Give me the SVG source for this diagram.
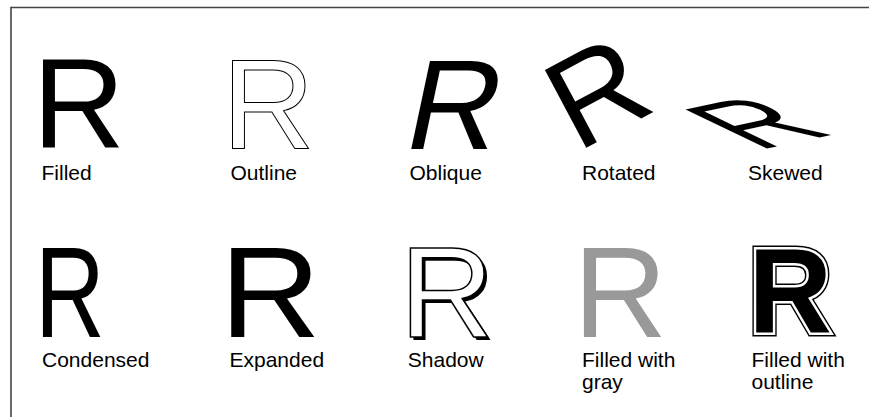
<svg xmlns="http://www.w3.org/2000/svg" width="869" height="417" viewBox="0 0 869 417">
<style>
.lbl{font-family:"Liberation Sans",Arial,sans-serif;font-size:21px;fill:#000;}
.big{font-family:"Liberation Sans",Arial,sans-serif;font-size:128px;}
.big2{font-family:"Liberation Sans",Arial,sans-serif;font-size:130px;}
.bold{font-family:"Liberation Sans",Arial,sans-serif;font-weight:bold;font-size:121px;}
</style>
<defs>
<text id="rBold" class="bold" x="0" y="0">R</text>
<text id="rBig2" class="big2" x="0" y="0">R</text>
</defs>
<rect width="869" height="417" fill="#fff"/>
<g id="frame" fill="none" stroke="#444" stroke-width="1.6">
<line x1="11" y1="7.5" x2="869" y2="7.5"/>
<line x1="11" y1="6.7" x2="11" y2="417"/>
</g>
<g id="filled">
<text class="big" x="32.6" y="148.3">R</text>
<text class="lbl" x="41.5" y="180">Filled</text>
</g>
<g id="outline">
<text class="big" x="222" y="148.6" fill="#fff" stroke="#000" stroke-width="1">R</text>
<text class="lbl" x="230.5" y="180">Outline</text>
</g>
<g id="oblique">
<text class="big" transform="translate(400.7,148.5) skewX(-12)">R</text>
<text class="lbl" x="409.5" y="180">Oblique</text>
</g>
<g id="rotated">
<text class="big" transform="translate(577,152.7) rotate(-28)">R</text>
<text class="lbl" x="582" y="180">Rotated</text>
</g>
<g id="skewed">
<text class="big" transform="matrix(0.846,-0.179,0.924,0.446,758,150.5)">R</text>
<text class="lbl" x="748" y="180">Skewed</text>
</g>
<g id="condensed">
<text class="big2" transform="translate(35.1,337.3) scale(0.744,1)">R</text>
<text class="lbl" x="42" y="367.3">Condensed</text>
</g>
<g id="expanded">
<text class="big2" transform="translate(219.7,337.3) scale(1.076,1)">R</text>
<text class="lbl" x="229.5" y="367.3">Expanded</text>
</g>
<g id="shadow">
<use href="#rBig2" x="402.8" y="340" fill="#000"/>
<text class="big2" x="399.8" y="337" fill="#fff" stroke="#000" stroke-width="1.5">R</text>
<text class="lbl" x="407.8" y="367.3">Shadow</text>
</g>
<g id="gray">
<text class="big2" x="573.3" y="336.5" fill="#999">R</text>
<text class="lbl" x="582" y="367.3">Filled with</text>
<text class="lbl" x="582" y="389">gray</text>
</g>
<g id="filled-outline">
<g transform="translate(748.6,333.3) scale(0.955,1)">
<use href="#rBold" fill="#000" stroke="#000" stroke-width="8" stroke-linejoin="miter"/>
<use href="#rBold" fill="#000" stroke="#fff" stroke-width="5" stroke-linejoin="miter"/>
<text class="bold" x="0" y="0" fill="#000">R</text>
</g>
<text class="lbl" x="751.5" y="367.3">Filled with</text>
<text class="lbl" x="751.5" y="389">outline</text>
</g>
</svg>
